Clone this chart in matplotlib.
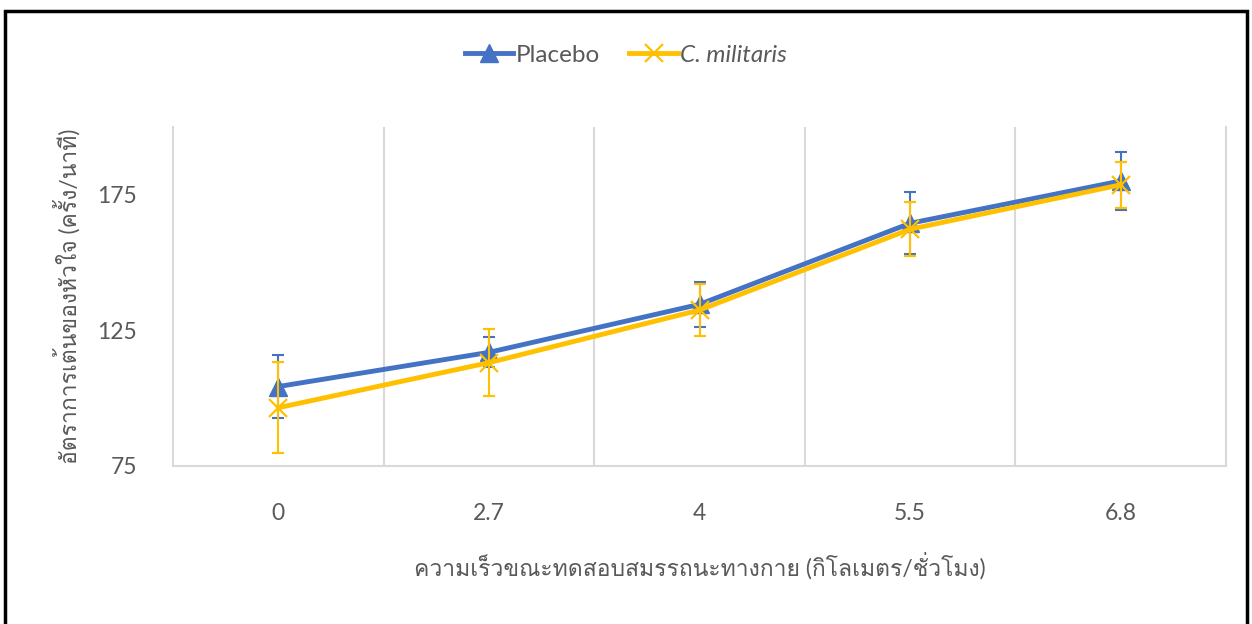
import matplotlib
matplotlib.use("Agg")
import matplotlib.pyplot as plt
from matplotlib import font_manager
from matplotlib.ft2font import FT2Font
from matplotlib.patches import Rectangle


speeds = ["0", "2.7", "4", "5.5", "6.8"]
placebo = [104.3, 116.9, 134.6, 164.5, 180.1]
placebo_err = [11.5, 5.5, 8.3, 11.4, 10.7]
militaris = [96.5, 113.1, 132.5, 162.3, 178.7]
militaris_err = [16.8, 12.4, 9.5, 10.0, 8.5]
y_ticks = [75, 125, 175]

BLUE = "#4472C4"
YELLOW = "#FFC000"
TEXT = "#595959"
GRID = "#D9D9D9"


def find_thai_font():
    # first installed family that has Thai glyphs
    for entry in font_manager.fontManager.ttflist:
        try:
            if 0x0E01 in FT2Font(entry.fname).get_charmap():
                return entry.name
        except Exception:
            pass
    return None


thai_font = find_thai_font()
families = ["Lato", thai_font, "DejaVu Sans"] if thai_font else ["Lato", "DejaVu Sans"]
plt.rcParams["font.family"] = families

fig = plt.figure(figsize=(12.52, 6.24), dpi=100)
fig.patches.append(Rectangle((5 / 1252, -0.1), 1242 / 1252, 1.1 - 11 / 624,
                             transform=fig.transFigure, fill=False,
                             edgecolor="black", linewidth=2.5))

ax = fig.add_axes([173 / 1252, 1 - 466 / 624, 1053 / 1252, 339 / 624])
x = list(range(len(speeds)))

ax.errorbar(x, placebo, yerr=placebo_err, color=BLUE, linewidth=3.5,
            marker="^", markersize=13, elinewidth=1.5, capsize=4.5, capthick=1.5,
            label="Placebo", zorder=3)
ax.errorbar(x, militaris, yerr=militaris_err, color=YELLOW, linewidth=3.5,
            marker="x", markersize=13, markeredgewidth=1.6, elinewidth=1.5,
            capsize=4.5, capthick=1.5, label="C. militaris", zorder=4)

ax.set_xlim(-0.5, len(speeds) - 0.5)
ax.set_ylim(75, 200)
ax.set_xticks(x)
ax.set_xticklabels(speeds)
ax.set_yticks(y_ticks)
ax.set_xticks([i + 0.5 for i in x[:-1]], minor=True)
ax.grid(True, which="minor", axis="x", color=GRID, linewidth=1.5)
ax.tick_params(axis="both", which="both", length=0, colors=TEXT, labelsize=16.5)
ax.tick_params(axis="y", pad=26)
ax.tick_params(axis="x", pad=27)
ax.spines["top"].set_visible(False)
for spine in ["left", "right", "bottom"]:
    ax.spines[spine].set_color(GRID)
    ax.spines[spine].set_linewidth(1.5)

ax.set_xlabel("ความเร็วขณะทดสอบสมรรถนะทางกาย (กิโลเมตร/ชั่วโมง)",
              color=TEXT, fontsize=16.5, labelpad=20)
ax.set_ylabel("อัตราการเต้นของหัวใจ (ครั้ง/นาที)", color=TEXT, fontsize=16.5, labelpad=12)

handles, labels = ax.get_legend_handles_labels()
handles = [h[0] for h in handles]
leg = fig.legend(handles, labels, loc="center", bbox_to_anchor=(0.5, 1 - 55 / 624),
                 ncol=2, frameon=False, fontsize=17.5, handlelength=2.0,
                 handletextpad=0.1, columnspacing=1.2)
for text in leg.get_texts():
    text.set_color(TEXT)
leg.get_texts()[1].set_fontstyle("italic")

fig.savefig("out.png", dpi=100)
